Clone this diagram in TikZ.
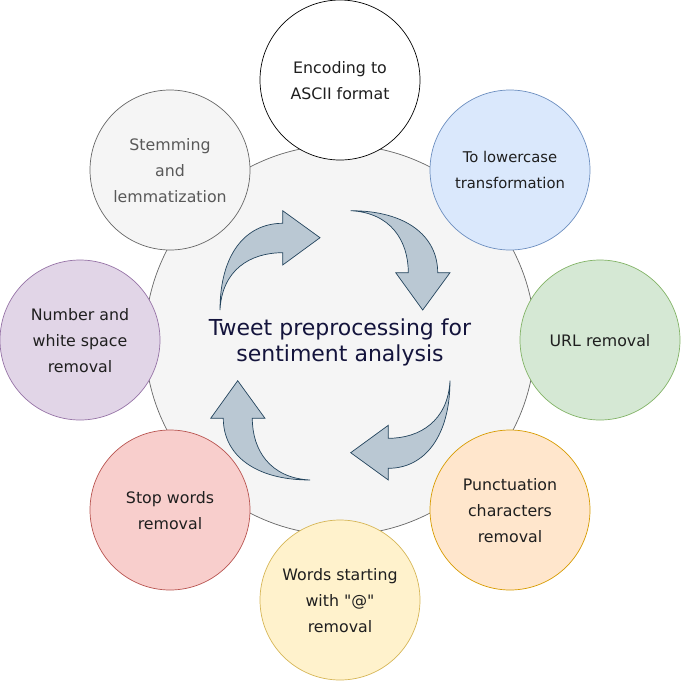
\documentclass[tikz,border=0pt]{standalone}
\usepackage{fontspec}
\setmainfont{DejaVu Sans}[Ligatures=TeXOff]
\usepackage{xcolor}
\usetikzlibrary{positioning}

%% drawio-like palette
\definecolor{hubfill}{HTML}{F5F5F5}
\definecolor{hubline}{HTML}{666666}
\definecolor{hubtext}{HTML}{14143C}
\definecolor{arrfill}{HTML}{BAC8D3}
\definecolor{arrline}{HTML}{23445D}
\definecolor{bluefill}{HTML}{DAE8FC}  \definecolor{blueline}{HTML}{6C8EBF}
\definecolor{greenfill}{HTML}{D5E8D4} \definecolor{greenline}{HTML}{82B366}
\definecolor{orngfill}{HTML}{FFE6CC}  \definecolor{orngline}{HTML}{D79B00}
\definecolor{yellfill}{HTML}{FFF2CC}  \definecolor{yellline}{HTML}{D6B656}
\definecolor{redfill}{HTML}{F8CECC}   \definecolor{redline}{HTML}{B85450}
\definecolor{purpfill}{HTML}{E1D5E7}  \definecolor{purpline}{HTML}{9673A6}

\begin{document}
\begin{tikzpicture}[
    x=1pt, y=-1pt,
    %% central circle
    hub/.style = {
      circle, draw=hubline, fill=hubfill, line width=0.7pt,
      minimum size=390pt, inner sep=0pt, align=center,
      text=hubtext, font=\fontsize{22}{26}\selectfont, text depth=-3pt},
    %% outer step circles (negative depth nudges the text a bit lower)
    stage/.style = {
      circle, line width=0.7pt, minimum size=160pt, inner sep=0pt,
      align=center, text=black!88, font=\fontsize{15.8}{26}\selectfont,
      text depth=-15pt},
    %% curved cycle arrows
    cycarr/.style = {draw=arrline, fill=arrfill, line width=0.7pt, line join=miter},
  ]
    \useasboundingbox (0,0) rectangle (681,681);

    %% ── Hub ───────────────────────────────────────────────────────────
    \node[hub] (hub) at (340,340) {Tweet preprocessing for\\sentiment analysis};

    %% ── Cycle arrows (top-left, top-right, bottom-right, bottom-left) ──
    \draw[cycarr] (220,310) .. controls (220,255) and (245,223.3) .. (282.7,223.3)
      -- (282.7,210.7) -- (320,237.7) -- (282.7,265) -- (282.7,252.7)
      .. controls (250,252.7) and (222,270) .. cycle;
    \draw[cycarr] (350.7,210.7) .. controls (405.7,210.7) and (437.7,235.7) .. (437.7,272.7)
      -- (450,272.7) -- (422.7,310) -- (395.7,272.7) -- (408.3,272.7)
      .. controls (408.3,240.7) and (390.7,212.7) .. cycle;
    \draw[cycarr] (450,380.7) .. controls (450,435.7) and (425,468.3) .. (388.3,468.3)
      -- (388.3,480) -- (350.7,452.7) -- (388.3,425.3) -- (388.3,438.3)
      .. controls (420,438.3) and (448,420.7) .. cycle;
    \draw[cycarr] (310,480) .. controls (255,480) and (223.3,455) .. (223.3,418.3)
      -- (210.7,418.3) -- (237.7,380.7) -- (265,418.3) -- (252.3,418.3)
      .. controls (252.3,450) and (270,478) .. cycle;

    %% ── Steps, clockwise from the top ─────────────────────────────────
    \node[stage, draw=black, fill=white]           (encode)   at (340,80)  {Encoding to\\ASCII format};
    \node[stage, draw=blueline, fill=bluefill, font=\fontsize{14.8}{26}\selectfont]
                                                   (lower)    at (510,170) {To lowercase\\transformation};
    \node[stage, draw=greenline, fill=greenfill]   (url)      at (600,340) {URL removal};
    \node[stage, draw=orngline, fill=orngfill]     (punct)    at (510,510) {Punctuation\\characters\\removal};
    \node[stage, draw=yellline, fill=yellfill]     (mention)  at (340,600) {Words starting\\with "@"\\removal};
    \node[stage, draw=redline, fill=redfill]       (stopw)    at (170,510) {Stop words\\removal};
    \node[stage, draw=purpline, fill=purpfill]     (numspace) at (80,340)  {Number and\\white space\\removal};
    \node[stage, draw=hubline, fill=hubfill, text=black!65] (stem) at (170,170) {Stemming\\and\\lemmatization};

  \end{tikzpicture}
\end{document}
